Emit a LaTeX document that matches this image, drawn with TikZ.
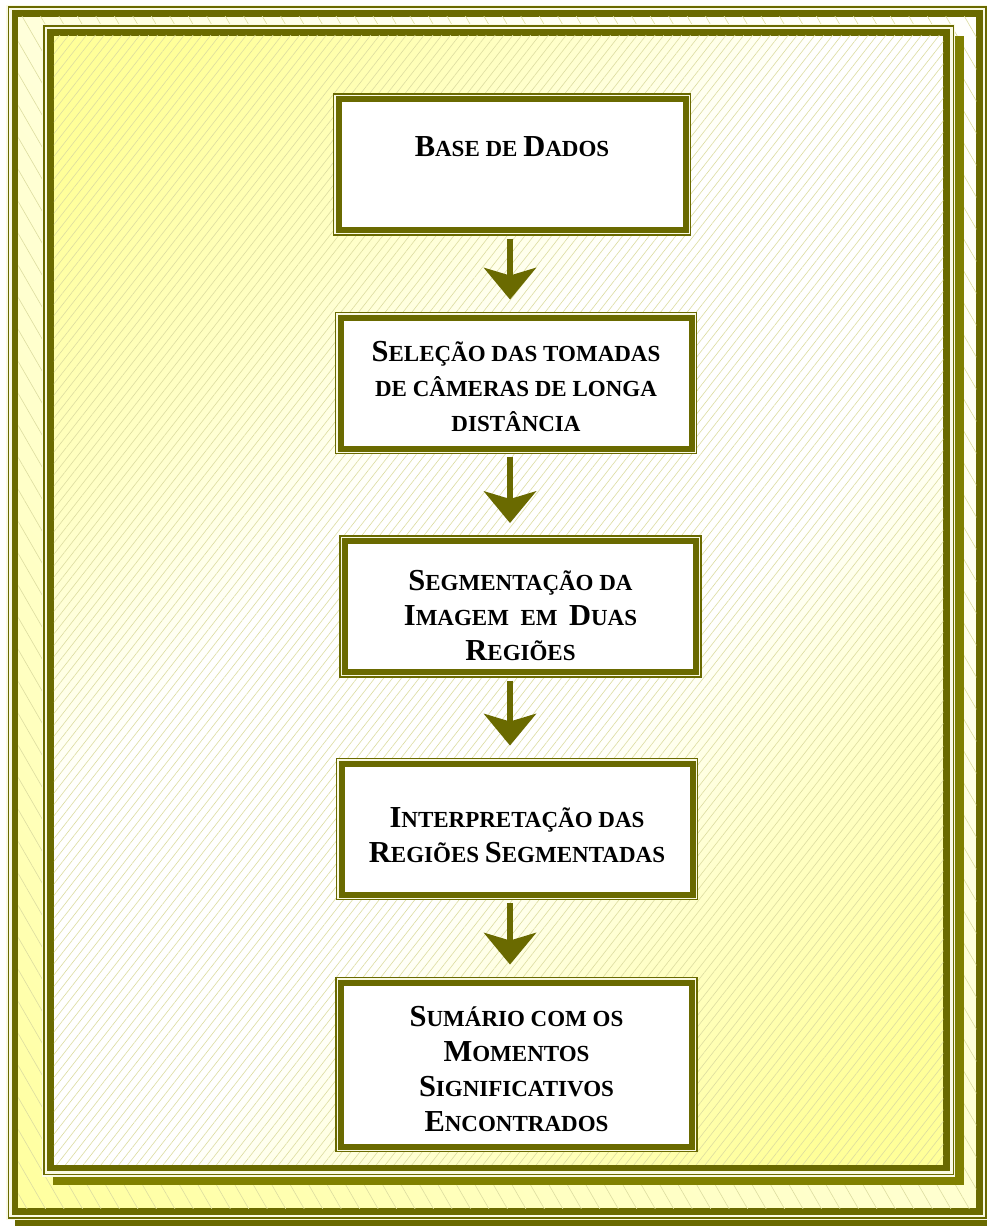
\documentclass[tikz,border=0pt]{standalone}
\usepackage{fontspec}
\setmainfont{Liberation Serif}
\usetikzlibrary{arrows.meta,patterns.meta}
\definecolor{oliva}{RGB}{106,106,0}
\definecolor{sombra}{RGB}{128,128,0}
\definecolor{amarelo}{RGB}{255,255,153}
\definecolor{creme}{RGB}{250,250,228}
\definecolor{hachura}{RGB}{220,220,160}
\pgfdeclareverticalshading{externa}{100bp}{color(0bp)=(amarelo); color(12bp)=(amarelo); color(33bp)=(amarelo!60!white); color(50bp)=(amarelo!42!white); color(67bp)=(amarelo!15!white); color(88bp)=(white); color(100bp)=(white)}
\pgfdeclareverticalshading{interna}{100bp}{color(0bp)=(amarelo); color(20bp)=(amarelo); color(32bp)=(amarelo!55!white); color(42bp)=(white); color(58bp)=(white); color(68bp)=(amarelo!55!white); color(80bp)=(amarelo); color(100bp)=(amarelo)}
\newcommand{\ini}[1]{{\fontsize{30.5}{35}\selectfont #1}}
\newcommand{\topo}[1]{\rule{0pt}{#1pt}}

\begin{document}
\begin{tikzpicture}[x=1pt,y=-1pt,
  moldura/.style={preaction={draw=creme,line width=17.3pt},preaction={draw=oliva,line width=14.3pt},preaction={draw=creme,line width=11.7pt},draw=oliva,line width=6.5pt},
  etapa/.style={rectangle,fill=white,minimum width=351pt,minimum height=131pt,inner sep=0pt,align=center,
    font=\fontsize{23}{35}\selectfont\bfseries,
    preaction={draw=oliva,line width=11.2pt},preaction={draw=creme,line width=8.8pt},draw=oliva,line width=6pt},
  fluxo/.style={draw=oliva,line width=6.5pt,-{Stealth[length=32pt,width=53pt,inset=8pt,line width=0pt]},shorten <=5.6pt,shorten >=15pt}]
\useasboundingbox (0,0) rectangle (987,1226);
\def\hx{3.25}
% moldura externa
\fill[oliva] (14.5,13) rectangle (987,1226);
\path[moldura,shade,shading=externa,shading angle=-45] (15,13.5) rectangle (979.5,1211.5);
\fill[pattern={Lines[angle=-60,distance=16pt,line width=0.6pt]},pattern color=hachura] (15+\hx,13.5+\hx) rectangle (979.5-\hx,1211.5-\hx);
% moldura interna
\fill[sombra] (53,36) rectangle (964,1185);
\path[moldura,shade,shading=interna,shading angle=45] (50.5,32.5) rectangle (946.7,1168);
\fill[pattern={Lines[angle=52,distance=7pt,line width=0.6pt]},pattern color=hachura] (50.5+\hx,32.5+\hx) rectangle (946.7-\hx,1168-\hx);

\coordinate (eixo) at (510,0);
\node[etapa,minimum width=347pt] (base) at (512,164.5) {\ini{B}ASE DE \ini{D}ADOS\\ \mbox{}};
\node[etapa] (selecao) at (516,383) {\topo{28}\ini{S}ELEÇÃO DAS TOMADAS\\ DE CÂMERAS DE LONGA\\ DISTÂNCIA};
\node[etapa] (segment) at (520.5,606.5) {\topo{38}\ini{S}EGMENTAÇÃO DA\\ \ini{I}MAGEM\ \ EM\ \ \ini{D}UAS\\ \ini{R}EGIÕES};
\node[etapa] (interp) at (517,829) {\topo{33}\ini{I}NTERPRETAÇÃO DAS\\ \ini{R}EGIÕES \ini{S}EGMENTADAS};
\node[etapa,minimum height=164pt] (sumario) at (516.5,1064.5) {\topo{30}\ini{S}UMÁRIO COM OS\\ \ini{M}OMENTOS\\ \ini{S}IGNIFICATIVOS\\ \ini{E}NCONTRADOS};

\draw[fluxo] (base.south -| eixo) -- (selecao.north -| eixo);
\draw[fluxo] (selecao.south -| eixo) -- (segment.north -| eixo);
\draw[fluxo] (segment.south -| eixo) -- (interp.north -| eixo);
\draw[fluxo] (interp.south -| eixo) -- (sumario.north -| eixo);
\end{tikzpicture}
\end{document}
